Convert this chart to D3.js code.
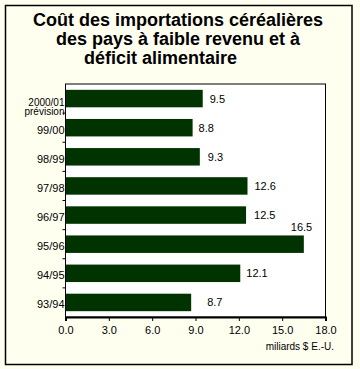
<!DOCTYPE html>
<html><head><meta charset="utf-8">
<script src="https://cdn.jsdelivr.net/npm/d3@7"></script>
<style>body{margin:0;background:#FFFFF0;}svg{display:block;}</style>
</head><body>
<script>
const categories = ["2000/01|prévision", "99/00", "98/99", "97/98", "96/97", "95/96", "94/95", "93/94"];
const values = [9.5, 8.8, 9.3, 12.6, 12.5, 16.5, 12.1, 8.7];
const xTicks = [0, 3, 6, 9, 12, 15, 18];
const titleLines = ["Coût des importations céréalières", "des pays à faible revenu et à", "déficit alimentaire"];
const unitLabel = "miliards $ E.-U.";

(function () {
const W = 360, H = 369;
const svg = d3.select("body").append("svg").attr("width", W).attr("height", H);
svg.append("rect").attr("width", W).attr("height", H).attr("fill", "#FFFFF0");
svg.append("rect").attr("x", 5.5).attr("y", 5.5).attr("width", 346.5).attr("height", 359)
  .attr("fill", "none").attr("stroke", "#000").attr("stroke-width", 1.5);

const tf = "'Liberation Sans', Arial, sans-serif";
svg.append("g").selectAll("text").data(titleLines).join("text")
  .attr("x", (d, i) => i === 2 ? 84 : 178)
  .attr("text-anchor", (d, i) => i === 2 ? "start" : "middle")
  .attr("y", (d, i) => 26 + i * 19)
  .attr("font-family", tf).attr("font-weight", "bold").attr("font-size", 18)
  .attr("fill", "#000").text(d => d);

const pl = 65.5, pr = 325.5, pt = 84, pb = 317;
const x = d3.scaleLinear().domain([0, 18]).range([pl, pr]);
const y = d3.scaleBand().domain(categories).range([pt, pb]).paddingInner(0.4).paddingOuter(0.2);

svg.append("rect").attr("x", pl).attr("y", pt).attr("width", pr - pl).attr("height", pb - pt)
  .attr("fill", "#fff").attr("stroke", "#000").attr("stroke-width", 1);

svg.append("g").selectAll("rect").data(values).join("rect")
  .attr("x", x(0)).attr("y", (d, i) => y(categories[i]))
  .attr("width", d => x(d) - x(0)).attr("height", y.bandwidth())
  .attr("fill", "#003300");

const lf = "'Liberation Sans', Arial, sans-serif";
const lblDx = [7, 6, 8, 7, 8, -13, 6, 16];
svg.append("g").selectAll("text").data(values).join("text")
  .attr("x", (d, i) => x(d) + lblDx[i])
  .attr("y", (d, i) => i === 5 ? y(categories[i]) - 4 : y(categories[i]) + y.bandwidth() / 2 + 4)
  .attr("font-family", lf).attr("font-size", 11).attr("fill", "#000")
  .text(d => d.toFixed(1));

const xa = svg.append("g").attr("transform", `translate(0,${pb})`)
  .call(d3.axisBottom(x).tickValues(xTicks).tickFormat(d3.format(".1f")).tickSize(4).tickPadding(5));
xa.select(".domain").attr("stroke-width", 2);
xa.selectAll("text").attr("font-family", lf).attr("font-size", 11).attr("fill", "#000");
xa.selectAll("line").attr("stroke", "#000");

const ya = svg.append("g").attr("transform", `translate(${pl},0)`);
ya.append("line").attr("y1", pt).attr("y2", pb).attr("stroke", "#000");
const step = y.step();
const b0 = pt + y.paddingOuter() * step - y.paddingInner() * step / 2;
ya.selectAll(".tk").data(d3.range(1, categories.length)).join("line")
  .attr("x1", -3).attr("x2", 0)
  .attr("y1", i => b0 + i * step).attr("y2", i => b0 + i * step)
  .attr("stroke", "#000");
ya.selectAll(".cl").data(categories).join("text")
  .attr("text-anchor", "end").attr("x", -1)
  .attr("font-family", lf).attr("fill", "#000")
  .attr("font-size", d => d.includes("|") ? 10 : 11)
  .each(function (d) {
    const parts = d.split("|");
    const cy = y(d) + y.bandwidth() / 2;
    const t = d3.select(this);
    parts.forEach((p, j) => {
      t.append("tspan").attr("x", -1)
        .attr("y", parts.length > 1 ? cy + 7 + j * 9.5 : cy + 6)
        .text(p);
    });
  });

svg.append("text").attr("x", 334).attr("y", 350).attr("text-anchor", "end")
  .attr("font-family", lf).attr("font-size", 10).attr("fill", "#000").text(unitLabel);
})();
</script>
</body></html>
